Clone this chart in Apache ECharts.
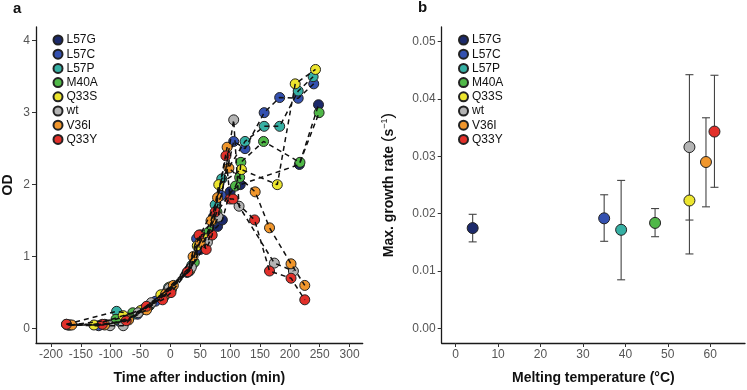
<!DOCTYPE html>
<html>
<head>
<meta charset="utf-8">
<script src="https://cdn.jsdelivr.net/npm/echarts@6/dist/echarts.min.js"></script>
<style>
  html, body { margin: 0; padding: 0; background: #fff; }
  #chart { width: 747px; height: 390px; }
</style>
</head>
<body>
<div id="chart"></div>
<script>
const mutants = ['L57G', 'L57C', 'L57P', 'M40A', 'Q33S', 'wt', 'V36I', 'Q33Y'];
const colors = ['#1c2a6b', '#3451b0', '#36b0a4', '#50b848', '#ece52e', '#b4b4b4', '#f0962c', '#e2302a'];

// panel a: [time after induction (min), OD]
const curveL57G = [[-170, 0.05], [-110, 0.06], [-76, 0.1], [-45, 0.27], [-15, 0.43], [0, 0.55], [32, 0.8], [50, 1.1], [62, 1.3], [79, 1.42], [87, 1.51], [100, 1.9], [117, 2.0], [216, 2.28], [248, 3.11]];
const curveL57C = [[-172, 0.05], [-120, 0.04], [-85, 0.1], [-55, 0.2], [-25, 0.38], [-5, 0.52], [28, 0.78], [44, 1.25], [56, 1.2], [72, 1.55], [85, 1.85], [106, 2.6], [125, 2.5], [157, 3.0], [183, 3.21], [214, 3.2], [240, 3.4]];
const curveL57P = [[-174, 0.06], [-90, 0.24], [-62, 0.2], [-35, 0.32], [-3, 0.57], [36, 0.88], [50, 1.3], [75, 1.72], [86, 2.08], [125, 2.6], [157, 2.81], [183, 2.81], [214, 3.3], [239, 3.5]];
const curveM40A = [[-168, 0.05], [-91, 0.13], [-63, 0.22], [-38, 0.3], [-10, 0.45], [2, 0.55], [40, 0.92], [52, 1.3], [65, 1.35], [78, 1.62], [109, 1.98], [116, 2.1], [118, 2.31], [156, 2.6], [217, 2.31], [249, 3.0]];
const curveQ33S = [[-128, 0.05], [-79, 0.18], [-50, 0.25], [-16, 0.47], [0, 0.58], [33, 0.82], [45, 1.15], [62, 1.25], [70, 1.5], [81, 2.0], [119, 2.21], [179, 2.0], [209, 3.4], [243, 3.6]];
const curveWt = [[-101, 0.04], [-79, 0.04], [-54, 0.22], [-32, 0.36], [-2, 0.56], [35, 0.85], [62, 1.2], [80, 1.55], [106, 2.9], [115, 1.7], [174, 0.91], [206, 0.8]];
const curveV36I = [[-165, 0.05], [-110, 0.05], [-70, 0.12], [-40, 0.26], [-8, 0.48], [5, 0.6], [38, 1.0], [50, 1.2], [68, 1.5], [79, 1.82], [95, 2.52], [98, 2.23], [142, 1.9], [166, 1.4], [202, 0.9], [225, 0.6]];
const curveQ33Y = [[-174, 0.06], [-114, 0.06], [-74, 0.11], [-40, 0.31], [-13, 0.4], [1, 0.5], [29, 0.79], [48, 1.3], [60, 1.1], [70, 1.3], [75, 1.62], [93, 2.4], [100, 1.8], [105, 1.8], [141, 1.51], [166, 0.8], [202, 0.7], [225, 0.4]];
const curves = [curveL57G, curveL57C, curveL57P, curveM40A, curveQ33S, curveWt, curveV36I, curveQ33Y];

// panel b
const meltTemp = [4, 35, 39, 47, 55.1, 55.1, 59, 61];
const growthRate = [0.0175, 0.0192, 0.0172, 0.0184, 0.0223, 0.0316, 0.029, 0.0343];
const rateLow = [0.0151, 0.0152, 0.0085, 0.016, 0.013, 0.0189, 0.0212, 0.0246];
const rateHigh = [0.0199, 0.0233, 0.0258, 0.0209, 0.0316, 0.0442, 0.0367, 0.0441];

const timeTicks = [-200, -150, -100, -50, 0, 50, 100, 150, 200, 250, 300];
const odTicks = [0, 1, 2, 3, 4];
const tempTicks = [0, 10, 20, 30, 40, 50, 60];
const rateTicks = [0, 0.01, 0.02, 0.03, 0.04, 0.05];

const FONT = 'Liberation Sans';

function axis(gridIndex, min, max, ticks, fmt, extra) {
  return Object.assign({
    type: 'value',
    gridIndex,
    min,
    max,
    axisLine: { show: true, onZero: false, lineStyle: { color: '#1a1a1a', width: 1.3 } },
    axisTick: { show: true, customValues: ticks, length: 4, lineStyle: { color: '#333', width: 1 } },
    axisLabel: { customValues: ticks, color: '#555', fontSize: 12, fontFamily: FONT, margin: 6, formatter: fmt },
    splitLine: { show: false },
    nameLocation: 'middle',
    nameTextStyle: { color: '#111', fontSize: 14, fontWeight: 'bold', fontFamily: FONT }
  }, extra);
}

const series = [];

// panel a: points, then dashed paths on top
curves.forEach((c, i) => {
  series.push({
    name: mutants[i],
    type: 'scatter',
    xAxisIndex: 0,
    yAxisIndex: 0,
    data: c,
    symbolSize: 10,
    z: 2,
    itemStyle: { color: colors[i], borderColor: '#222', borderWidth: 1, opacity: 1 }
  });
});
curves.forEach((c, i) => {
  series.push({
    name: mutants[i] + ' path',
    type: 'line',
    xAxisIndex: 0,
    yAxisIndex: 0,
    data: c,
    showSymbol: false,
    z: 3,
    lineStyle: { color: '#111', width: 1.5, type: [5, 4] }
  });
});

// panel b: error bars
series.push({
  type: 'custom',
  xAxisIndex: 1,
  yAxisIndex: 1,
  z: 1,
  data: meltTemp.map((t, i) => [t, rateLow[i], rateHigh[i]]),
  renderItem: (params, api) => {
    const top = api.coord([api.value(0), api.value(2)]);
    const bot = api.coord([api.value(0), api.value(1)]);
    const w = 4;
    const style = { stroke: '#444', lineWidth: 1.1 };
    return {
      type: 'group',
      children: [
        { type: 'line', shape: { x1: top[0], y1: top[1], x2: bot[0], y2: bot[1] }, style },
        { type: 'line', shape: { x1: top[0] - w, y1: top[1], x2: top[0] + w, y2: top[1] }, style },
        { type: 'line', shape: { x1: bot[0] - w, y1: bot[1], x2: bot[0] + w, y2: bot[1] }, style }
      ]
    };
  }
});
mutants.forEach((m, i) => {
  series.push({
    name: m,
    type: 'scatter',
    xAxisIndex: 1,
    yAxisIndex: 1,
    data: [[meltTemp[i], growthRate[i]]],
    symbolSize: 11,
    z: 2,
    itemStyle: { color: colors[i], borderColor: '#222', borderWidth: 1, opacity: 1 }
  });
});

const legendBase = {
  data: mutants,
  orient: 'vertical',
  icon: 'circle',
  itemWidth: 9,
  itemHeight: 9,
  itemGap: 2.2,
  selectedMode: false,
  textStyle: { color: '#111', fontSize: 12, fontFamily: FONT, padding: [0, 0, 0, -1] }
};

const chart = echarts.init(document.getElementById('chart'), null, { renderer: 'canvas' });
chart.setOption({
  animation: false,
  backgroundColor: '#fff',
  textStyle: { fontFamily: FONT },
  grid: [
    { left: 34, top: 27, width: 328.7, height: 324 },
    { left: 441.7, top: 27, width: 303.3, height: 324 }
  ],
  graphic: [
    { type: 'text', left: 13, top: 1, style: { text: 'a', font: 'bold 15px "Liberation Sans"', fill: '#111' } },
    { type: 'text', left: 418, top: 0, style: { text: 'b', font: 'bold 15px "Liberation Sans"', fill: '#111' } }
  ],
  legend: [
    Object.assign({ left: 47.5, top: 29 }, legendBase),
    Object.assign({ left: 453, top: 29 }, legendBase)
  ],
  xAxis: [
    axis(0, -225, 322, timeTicks, (v) => String(v), { name: 'Time after induction (min)', nameGap: 28 }),
    axis(1, -3.3, 68.2, tempTicks, (v) => String(v), { name: 'Melting temperature (°C)', nameGap: 28 })
  ],
  yAxis: [
    axis(0, -0.2, 4.19, odTicks, (v) => String(v), { name: 'OD', nameGap: 21 }),
    axis(1, -0.0025, 0.0525, rateTicks, (v) => v.toFixed(2), {
      name: '{t|Max. growth rate }{p|(}{t|s}{s|−1}{p|)}',
      nameGap: 44,
      nameTextStyle: {
        rich: {
          t: { color: '#111', fontSize: 14, fontWeight: 'bold', fontFamily: FONT, lineHeight: 18 },
          p: { color: '#111', fontSize: 17, fontFamily: FONT, lineHeight: 18 },
          s: { color: '#111', fontSize: 9, fontFamily: FONT, verticalAlign: 'top', lineHeight: 18 }
        }
      }
    })
  ],
  series
});
</script>
</body>
</html>
